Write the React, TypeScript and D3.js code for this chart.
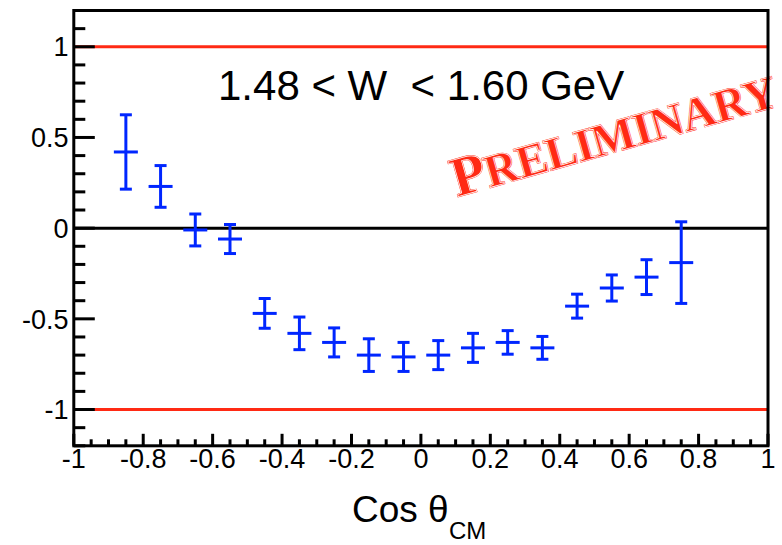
import * as d3 from "d3";
import React from "react";

const width = 782;
const height = 545;

// bin centers in cos(theta_CM)
const cosTheta = [
  -0.85, -0.75, -0.65, -0.55, -0.45, -0.35, -0.25, -0.15, -0.05, 0.05, 0.15,
  0.25, 0.35, 0.45, 0.55, 0.65, 0.75,
];
const asym = [
  0.42, 0.23, -0.01, -0.06, -0.47, -0.58, -0.63, -0.7, -0.71, -0.7, -0.66,
  -0.63, -0.66, -0.43, -0.33, -0.27, -0.19,
];
const asymErr = [
  0.205, 0.115, 0.088, 0.08, 0.082, 0.09, 0.08, 0.09, 0.08, 0.08, 0.08, 0.065,
  0.063, 0.066, 0.072, 0.096, 0.225,
];

const xTickValues = [-1, -0.8, -0.6, -0.4, -0.2, 0, 0.2, 0.4, 0.6, 0.8, 1];
const xTickLabels = ["-1", "-0.8", "-0.6", "-0.4", "-0.2", "0", "0.2", "0.4", "0.6", "0.8", "1"];
const yTickValues = [-1, -0.5, 0, 0.5, 1];
const yTickLabels = ["-1", "-0.5", "0", "0.5", "1"];
const limitLines = [1, -1];

const frame = { left: 73.8, right: 768, top: 10.5, bottom: 445.8 };

const xScale = d3.scaleLinear().domain([-1, 1]).range([frame.left, frame.right]);
const yScale = d3.scaleLinear().domain([-1.2, 1.2]).range([frame.bottom, frame.top]);

const xMinor = d3.range(-1, 1.0001, 0.05);
const yMinor = d3.range(-1.2, 1.2001, 0.1);

const blue = "#0026ff";
const red = "#ff2a14";
const sans = "'Liberation Sans', Arial, sans-serif";
const stampFont = "'Liberation Serif', 'DejaVu Serif', serif";

const App = () => {
  const barHalf = 12;
  const capHalf = 6;
  return (
    <svg
      width={width}
      height={height}
      style={{ position: "absolute", left: 0, top: 0, background: "#fff" }}
    >
      {/* reference lines */}
      {limitLines.map((v) => (
        <line
          key={v}
          x1={frame.left}
          x2={frame.right}
          y1={yScale(v)}
          y2={yScale(v)}
          stroke={red}
          strokeWidth={3}
        />
      ))}
      <line
        x1={frame.left}
        x2={frame.right}
        y1={yScale(0)}
        y2={yScale(0)}
        stroke="black"
        strokeWidth={3}
      />

      {/* error bars */}
      <g stroke={blue} strokeWidth={3}>
        {cosTheta.map((c, i) => {
          const cx = xScale(c);
          const cy = yScale(asym[i]);
          const yTop = yScale(asym[i] + asymErr[i]);
          const yBot = yScale(asym[i] - asymErr[i]);
          return (
            <g key={i}>
              <line x1={cx} x2={cx} y1={yTop} y2={yBot} />
              <line x1={cx - barHalf} x2={cx + barHalf} y1={cy} y2={cy} />
              <line x1={cx - capHalf} x2={cx + capHalf} y1={yTop} y2={yTop} />
              <line x1={cx - capHalf} x2={cx + capHalf} y1={yBot} y2={yBot} />
            </g>
          );
        })}
      </g>

      {/* title */}
      <text x={218} y={100} fontFamily={sans} fontSize={42} fill="black">
        {"1.48 < W\u00a0 < 1.60 GeV"}
      </text>

      {/* preliminary stamp */}
      <g transform="translate(457,197) rotate(-15.8)">
        <text
          fontFamily={stampFont}
          fontWeight="bold"
          fontSize={46}
          fill={red}
          stroke={red}
          strokeWidth={1.5}
          textLength={336}
          lengthAdjust="spacing"
        >
          <tspan fontSize={56}>P</tspan>RELIMINARY
        </text>
        <text
          fontFamily={stampFont}
          fontWeight="bold"
          fontSize={46}
          fill="none"
          stroke="#fff"
          strokeWidth={0.7}
          textLength={336}
          lengthAdjust="spacing"
        >
          <tspan fontSize={56}>P</tspan>RELIMINARY
        </text>
      </g>

      {/* frame */}
      <rect
        x={frame.left}
        y={frame.top}
        width={frame.right - frame.left}
        height={frame.bottom - frame.top}
        fill="none"
        stroke="black"
        strokeWidth={3}
      />

      {/* ticks */}
      <g stroke="black" strokeWidth={3}>
        {xMinor.map((v, i) => (
          <line
            key={"xm" + i}
            x1={xScale(v)}
            x2={xScale(v)}
            y1={frame.bottom}
            y2={frame.bottom - (i % 4 === 0 ? 12 : 6.5)}
          />
        ))}
        {yMinor.map((v, i) => (
          <line
            key={"ym" + i}
            x1={frame.left}
            x2={frame.left + ((i - 2) % 5 === 0 ? 21 : 11.5)}
            y1={yScale(v)}
            y2={yScale(v)}
          />
        ))}
      </g>

      {/* tick labels */}
      <g fontFamily={sans} fontSize={27} fill="black">
        {xTickValues.map((v, i) => (
          <text key={"xl" + i} x={xScale(v)} y={468} textAnchor="middle">
            {xTickLabels[i]}
          </text>
        ))}
        {yTickValues.map((v, i) => (
          <text
            key={"yl" + i}
            x={68.5}
            y={yScale(v)}
            dy="0.36em"
            textAnchor="end"
          >
            {yTickLabels[i]}
          </text>
        ))}
      </g>

      {/* axis title */}
      <text x={352} y={522} fontFamily={sans} fontSize={37} fill="black">
        Cos θ
      </text>
      <text x={449} y={539} fontFamily={sans} fontSize={24} fill="black">
        CM
      </text>
    </svg>
  );
};

export default App;
